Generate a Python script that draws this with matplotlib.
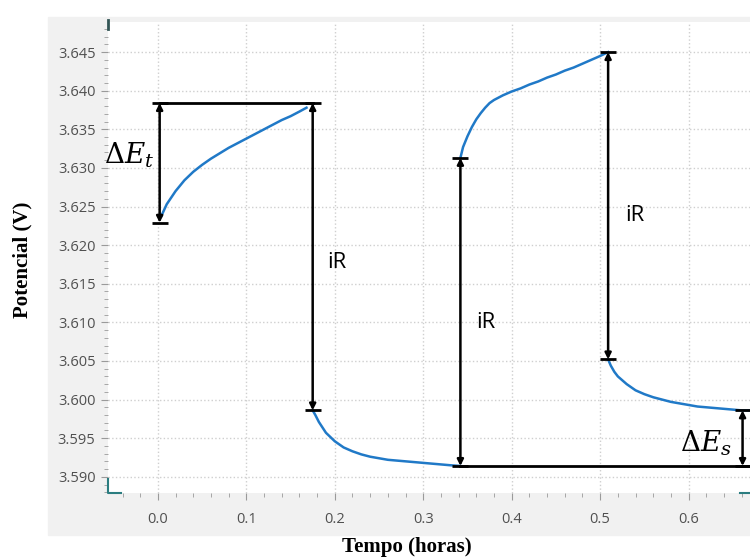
import matplotlib.pyplot as plt
from matplotlib.patches import Rectangle
from matplotlib.ticker import MultipleLocator, FormatStrFormatter

# potential during the pulse test (hours, volts)
t_carga1 = [0.004, 0.01, 0.02, 0.03, 0.04, 0.05, 0.06, 0.07, 0.08, 0.09,
            0.10, 0.11, 0.12, 0.13, 0.14, 0.15, 0.16, 0.168]
v_carga1 = [3.6238, 3.6253, 3.6270, 3.6284, 3.6295, 3.6304, 3.6312, 3.6319, 3.6326, 3.6332,
            3.6338, 3.6344, 3.6350, 3.6356, 3.6362, 3.6367, 3.6373, 3.6378]

t_desc1 = [0.175, 0.178, 0.182, 0.186, 0.19, 0.20, 0.21, 0.22, 0.23, 0.24, 0.25,
           0.26, 0.27, 0.28, 0.29, 0.30, 0.31, 0.32, 0.33, 0.342]
v_desc1 = [3.5986, 3.5980, 3.5971, 3.5964, 3.5957, 3.5946, 3.5938, 3.5933, 3.5929, 3.5926, 3.5924,
           3.5922, 3.5921, 3.5920, 3.5919, 3.5918, 3.5917, 3.5916, 3.5915, 3.5914]

t_carga2 = [0.342, 0.345, 0.35, 0.355, 0.36, 0.365, 0.37, 0.375, 0.38, 0.39, 0.40,
            0.41, 0.42, 0.43, 0.44, 0.45, 0.46, 0.47, 0.48, 0.49, 0.50, 0.509]
v_carga2 = [3.6313, 3.6327, 3.6341, 3.6353, 3.6363, 3.6371, 3.6378, 3.6384, 3.6388, 3.6394, 3.6399,
            3.6403, 3.6408, 3.6412, 3.6417, 3.6421, 3.6426, 3.6430, 3.6435, 3.6440, 3.6445, 3.6450]

t_desc2 = [0.509, 0.512, 0.516, 0.52, 0.53, 0.54, 0.55, 0.56, 0.57, 0.58,
           0.59, 0.60, 0.61, 0.62, 0.63, 0.64, 0.65, 0.66, 0.67]
v_desc2 = [3.6052, 3.6044, 3.6036, 3.6030, 3.6020, 3.6012, 3.6007, 3.6003, 3.6000, 3.5997,
           3.5995, 3.5993, 3.5991, 3.5990, 3.5989, 3.5988, 3.5987, 3.5986, 3.5986]

# annotation levels
v_topo1 = 3.6384
v_base1 = 3.6229
v_fundo = 3.5914
t_et = 0.002
t_ir = [0.175, 0.342, 0.509]
v_ir = [(v_topo1, 3.5986), (3.6313, v_fundo), (3.6450, 3.6052)]
t_es = 0.661
v_es = (v_fundo, 3.5986)

plt.rcParams['mathtext.fontset'] = 'dejavuserif'

fig = plt.figure(figsize=(7.5, 5.59), dpi=100)
fig.patch.set_facecolor('white')
fig.patches.append(Rectangle((48 / 750, 1 - 535 / 559), 1, (535 - 17) / 559,
                             transform=fig.transFigure, color='#f1f1f1', zorder=-10))

ax = fig.add_axes([108 / 750, 1 - 493 / 559, 1 - 108 / 750, (493 - 22) / 559])
ax.set_zorder(1)
ax.set_facecolor('white')
ax.set_xlim(-0.0564, 0.6694)
ax.set_ylim(3.5879, 3.6489)

for s in ax.spines.values():
    s.set_visible(False)

ax.yaxis.set_major_locator(MultipleLocator(0.005))
ax.yaxis.set_minor_locator(MultipleLocator(0.001))
ax.yaxis.set_major_formatter(FormatStrFormatter('%.3f'))
ax.xaxis.set_major_locator(MultipleLocator(0.1))
ax.xaxis.set_minor_locator(MultipleLocator(0.02))
ax.tick_params(which='both', colors='#9a9a9a', labelcolor='#505050', labelsize=10.5)
ax.tick_params(which='major', length=5)
ax.tick_params(which='minor', length=3)
ax.tick_params(axis='x', pad=9)
ax.tick_params(axis='y', pad=4)
for lb in ax.get_xticklabels() + ax.get_yticklabels():
    lb.set_family('Open Sans')
ax.grid(True, which='major', linestyle=':', color='#cfcfcf', lw=1)

# small teal corner marks
teal = '#2b7d80'
ax.plot([0, 0, 0.02], [0.03, 0, 0], color=teal, lw=1.5, transform=ax.transAxes, clip_on=False)
ax.plot([0, 0], [0.985, 1.005], color='#335555', lw=2, transform=ax.transAxes, clip_on=False)
ax.plot([0.985, 1.0], [0, 0], color=teal, lw=1.5, transform=ax.transAxes, clip_on=False)

azul = '#2079c7'
for t, v in [(t_carga1, v_carga1), (t_desc1, v_desc1), (t_carga2, v_carga2), (t_desc2, v_desc2)]:
    ax.plot(t, v, color=azul, lw=1.8, zorder=3)

# horizontal reference lines
ax.plot([t_et, t_ir[0]], [v_topo1, v_topo1], color='black', lw=2, zorder=4)
ax.plot([t_ir[1], 0.68], [v_fundo, v_fundo], color='black', lw=2, zorder=4, clip_on=False)


def seta(x, y0, y1, cap=True):
    ax.annotate('', xy=(x, y1), xytext=(x, y0),
                arrowprops=dict(arrowstyle='<|-|>', lw=1.8, color='black',
                                shrinkA=0, shrinkB=0, mutation_scale=9),
                zorder=5, annotation_clip=False)
    if cap:
        ax.plot([x, x], [y0, y1], ls='none', marker='_', ms=11, mew=2,
                color='black', zorder=5)


seta(t_et, v_base1, v_topo1)
for x, (a, b) in zip(t_ir, v_ir):
    seta(x, a, b)
seta(t_es, v_es[0], v_es[1])

ax.text(-0.033, 3.6316, r'$\Delta E_t$', fontsize=20, ha='center', va='center', zorder=6)
ax.text(0.590, 3.5943, r'$\Delta E_s$', fontsize=20, ha='left', va='center', zorder=6)
for x, y in [(0.192, 3.6178), (0.360, 3.6100), (0.528, 3.6238)]:
    ax.text(x, y, 'iR', fontsize=16, family='Open Sans', ha='left', va='center', zorder=6)

fig.text(407 / 750, 1 - 547 / 559, 'Tempo (horas)', fontsize=15, fontweight='bold',
         family='Liberation Serif', ha='center', va='center')
fig.text(22 / 750, 1 - 260 / 559, 'Potencial (V)', fontsize=15, fontweight='bold',
         family='Liberation Serif', ha='center', va='center', rotation=90)

fig.savefig('out.png', dpi=100)
